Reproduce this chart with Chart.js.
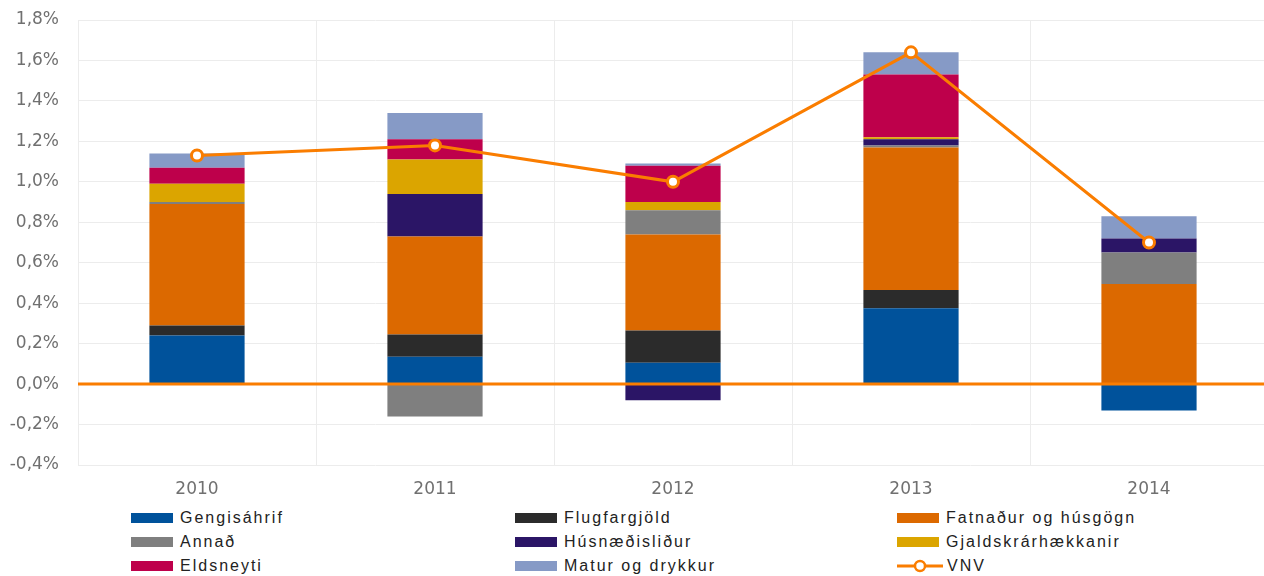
<!DOCTYPE html>
<html>
<head>
<meta charset="utf-8">
<script src="https://cdn.jsdelivr.net/npm/chart.js@4.4.1/dist/chart.umd.min.js"></script>
<style>
    html, body { margin: 0; padding: 0; background: #fff; overflow: hidden; }
    .wrap { position: relative; width: 1264px; height: 576px; overflow: hidden; }
    #vnvChart { position: absolute; left: 0; top: 0; }
    .legend {
        position: absolute; left: 131px; top: 506px;
        display: grid; grid-template-columns: 384px 382px 300px; grid-auto-rows: 24px;
        font-family: "Liberation Sans", Arial, sans-serif; font-size: 16px; letter-spacing: 2px; color: #222;
    }
    .legend-item { display: flex; align-items: center; white-space: nowrap; }
    .legend-box { width: 42px; height: 10px; margin-right: 7px; }
    .legend-item svg { margin-right: 4px; }
</style>
</head>
<body>
<div class="wrap">
    <canvas id="vnvChart" width="1268" height="500"></canvas>
    <div class="legend" id="legend"></div>
</div>

<script>
// Data (% change)
const years = ['2010', '2011', '2012', '2013', '2014'];
const gengisahrif = [0.24, 0.135, 0.105, 0.375, -0.13];
const flugfargjold = [0.05, 0.11, 0.16, 0.09, 0];
const fatnadur = [0.60, 0.485, 0.475, 0.705, 0.495];
const annad = [0.01, -0.16, 0.12, 0.01, 0.155];
const husnaedi = [0, 0.21, -0.08, 0.03, 0.07];
const gjaldskra = [0.09, 0.17, 0.04, 0.01, 0];
const eldsneyti = [0.08, 0.10, 0.18, 0.31, 0];
const matur = [0.07, 0.13, 0.01, 0.11, 0.11];
const vnv = [1.13, 1.18, 1.00, 1.64, 0.70];

const yMin = -0.4, yMax = 1.8, yStep = 0.2;

const ORANGE_LINE = '#FA7D00';
const TICK_FONT = { family: 'DejaVu Sans', size: 17 };

const barSeries = [
    { label: 'Gengisáhrif', data: gengisahrif, color: '#00529B' },
    { label: 'Flugfargjöld', data: flugfargjold, color: '#2B2B2B' },
    { label: 'Fatnaður og húsgögn', data: fatnadur, color: '#DC6900' },
    { label: 'Annað', data: annad, color: '#7F7F7F' },
    { label: 'Húsnæðisliður', data: husnaedi, color: '#2B1566' },
    { label: 'Gjaldskrárhækkanir', data: gjaldskra, color: '#DBA500' },
    { label: 'Eldsneyti', data: eldsneyti, color: '#BE004B' },
    { label: 'Matur og drykkur', data: matur, color: '#869AC6' }
];

// zero line drawn on top of the bars
const zeroLine = {
    id: 'zeroLine',
    afterDatasetsDraw(chart) {
        const { ctx, chartArea, scales } = chart;
        const y = scales.y.getPixelForValue(0);
        ctx.save();
        ctx.strokeStyle = ORANGE_LINE;
        ctx.lineWidth = 3;
        ctx.beginPath();
        ctx.moveTo(chartArea.left, y);
        ctx.lineTo(chartArea.right, y);
        ctx.stroke();
        ctx.restore();
    }
};

const datasets = [
    {
        type: 'line',
        label: 'VNV',
        data: vnv,
        stack: 'vnv',
        order: 0,
        borderColor: ORANGE_LINE,
        borderWidth: 3,
        pointRadius: 5.5,
        pointHoverRadius: 5.5,
        pointBorderWidth: 3,
        pointBackgroundColor: '#fff',
        pointBorderColor: ORANGE_LINE,
        tension: 0
    },
    ...barSeries.map(s => ({
        type: 'bar',
        label: s.label,
        data: s.data,
        stack: 'bars',
        order: 1,
        backgroundColor: s.color,
        borderWidth: 0,
        categoryPercentage: 1,
        barPercentage: 0.4
    }))
];

new Chart(document.getElementById('vnvChart'), {
    data: { labels: years, datasets },
    plugins: [zeroLine],
    options: {
        responsive: false,
        animation: false,
        layout: { autoPadding: false, padding: 0 },
        plugins: { legend: { display: false }, tooltip: { enabled: false } },
        scales: {
            x: {
                stacked: true,
                afterFit: s => { s.height = 35; },
                grid: { color: '#ECECEC', offset: true, drawTicks: false },
                border: { display: false },
                ticks: { color: '#707070', padding: 14, font: TICK_FONT }
            },
            y: {
                stacked: true,
                min: yMin,
                max: yMax,
                // tick padding would otherwise push the plot top down
                afterFit: s => { s.width = 78; s.paddingTop = 20; s.paddingBottom = 0; },
                grid: { color: '#ECECEC', drawTicks: false },
                border: { display: false },
                ticks: {
                    stepSize: yStep,
                    padding: 19,
                    color: '#707070',
                    font: TICK_FONT,
                    callback: v => v.toFixed(1).replace('.', ',') + '%'
                }
            }
        }
    }
});

// legend (3 columns, row-wise like the original)
const legendEl = document.getElementById('legend');
barSeries.forEach(s => {
    legendEl.insertAdjacentHTML('beforeend',
        `<div class="legend-item"><span class="legend-box" style="background:${s.color}"></span>${s.label}</div>`);
});
legendEl.insertAdjacentHTML('beforeend',
    `<div class="legend-item"><svg width="46" height="14"><line x1="0" y1="7" x2="46" y2="7" stroke="${ORANGE_LINE}" stroke-width="3"/><circle cx="23" cy="7" r="5" fill="#fff" stroke="${ORANGE_LINE}" stroke-width="2.5"/></svg>VNV</div>`);
</script>
</body>
</html>
